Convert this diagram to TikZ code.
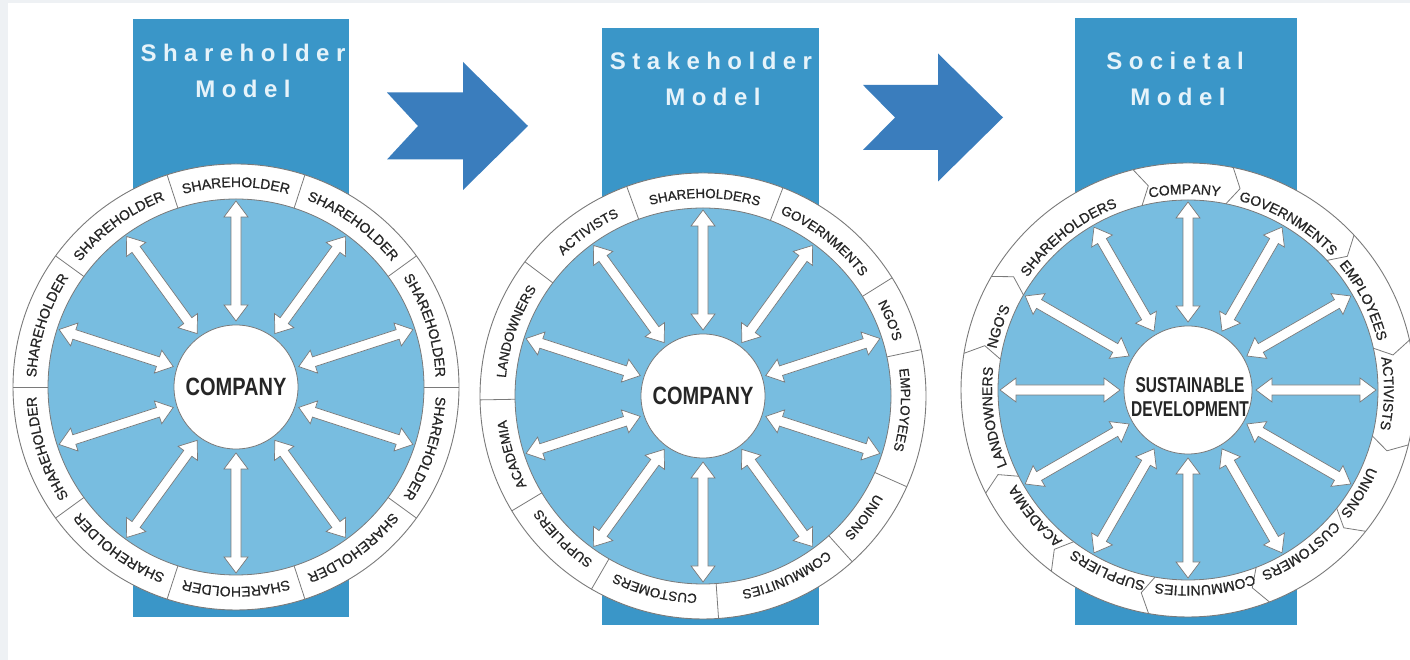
\documentclass[tikz,border=0pt]{standalone}
\usepackage{fontspec}
\setmainfont{Liberation Sans}
\newfontfamily\titlef[LetterSpace=27]{Liberation Sans}
\newfontfamily\condf[FakeStretch=0.8]{Liberation Sans}
\newfontfamily\condg[FakeStretch=0.72]{Liberation Sans}
\newfontfamily\labfont[FakeBold=0.8]{Liberation Sans}
\usetikzlibrary{calc,decorations.text}

\definecolor{rectblue}{HTML}{3A96C8}
\definecolor{arrowblue}{HTML}{3A7DBD}
\definecolor{disk}{HTML}{78BDE0}
\definecolor{rimline}{HTML}{7A7A7A}
\definecolor{labc}{HTML}{262626}
\definecolor{titlec}{HTML}{E6F3FA}
\definecolor{bgc}{HTML}{EEF1F4}

\newcommand\labfA{\labfont\fontsize{14}{14}\selectfont\color{labc}}
\newcommand\labfB{\labfont\fontsize{13.3}{13.3}\selectfont\color{labc}}

\newcommand\ringlab[5]{%
  \pgfmathsetmacro\rlsa{#2+50}%
  \pgfmathsetmacro\rlea{#2-50}%
  \path[decorate, decoration={text along path, text align=center,
      text={|#5|#4}}]
    ($(#1)+(\rlsa:#3)$) arc[start angle=\rlsa, end angle=\rlea, radius=#3];
}

\tikzset{
  panelrect/.style={fill=rectblue, draw=none},
  bigarrow/.style={fill=arrowblue, draw=none},
  ring/.style={fill=white, draw=rimline, line width=0.9pt},
  innerdisk/.style={fill=disk, draw=rimline, line width=0.8pt},
  hubcircle/.style={circle, fill=white, draw=rimline, line width=0.8pt, inner sep=0pt},
  divider/.style={draw=rimline, line width=0.8pt},
  titletext/.style={text=titlec, font=\titlef\bfseries\fontsize{24}{24}\selectfont, anchor=base, inner sep=0pt},
  hubtext/.style={text=labc, font=\condf\bfseries\fontsize{25}{25}\selectfont},
  hubtextB/.style={text=labc, font=\condg\bfseries\fontsize{21.5}{24}\selectfont, align=center, inner sep=0pt},
  fatarrow/.style={fill=white, draw=rimline, line width=0.7pt, line join=miter,
    to path={let \p1=(\tikztostart), \p2=(\tikztotarget),
      \n1={atan2(\y2-\y1,\x2-\x1)} in
      -- ($(\p1)+(\n1:16pt)+(\n1+90:12pt)$)
      -- ($(\p1)+(\n1:16pt)+(\n1+90:5pt)$)
      -- ($(\p2)+(\n1+180:16pt)+(\n1+90:5pt)$)
      -- ($(\p2)+(\n1+180:16pt)+(\n1+90:12pt)$)
      -- (\p2)
      -- ($(\p2)+(\n1+180:16pt)+(\n1-90:12pt)$)
      -- ($(\p2)+(\n1+180:16pt)+(\n1-90:5pt)$)
      -- ($(\p1)+(\n1:16pt)+(\n1-90:5pt)$)
      -- ($(\p1)+(\n1:16pt)+(\n1-90:12pt)$)
      -- cycle}}
}

\begin{document}
\begin{tikzpicture}[x=1pt,y=1pt]
\useasboundingbox (0,0) rectangle (1410,660);
\fill[bgc] (0,0) rectangle (1410,660);
\fill[white] (8,0) rectangle (1410,657);

% ---------- blue panels ----------
\path[panelrect] (133,43) rectangle (349,641);
\path[panelrect] (602,35) rectangle (819,632);
\path[panelrect] (1075,35) rectangle (1297,642);

\node[titletext] (t1a) at (243,598) {Shareholder};
\node[titletext] (t1b) at (243,562) {Model};
\node[titletext] (t2a) at (711,590) {Stakeholder};
\node[titletext] (t2b) at (713,554) {Model};
\node[titletext] (t3a) at (1175,590) {Societal};
\node[titletext] (t3b) at (1178,554) {Model};

% ---------- big arrows between panels ----------
\path[bigarrow] (387,567.5) -- (463,567.5) -- (463,598) -- (528,534) -- (463,470)
  -- (463,500.5) -- (387,500.5) -- (418,534) -- cycle;
\path[bigarrow] (863,575) -- (938,575) -- (938,606.5) -- (1003,542.5) -- (938,478.5)
  -- (938,510) -- (863,510) -- (895,542.5) -- cycle;

% ---------- panel 1 ----------
\coordinate (c1) at (236,273);
\path[ring] (c1) circle[radius=223];
\path[innerdisk] (c1) circle[radius=188];
\foreach \k in {0,...,9}{
  \pgfmathsetmacro\da{108-36*\k}
  \pgfmathsetmacro\ma{90-36*\k}
  \draw[divider] ($(c1)+(\da:188)$) -- ($(c1)+(\da:223)$);
  \ringlab{c1}{\ma}{200}{SHAREHOLDER}{\labfA}
  \coordinate (p1i\k) at ($(c1)+(\ma:66)$);
  \coordinate (p1o\k) at ($(c1)+(\ma:186)$);
  \path[fatarrow] (p1i\k) to (p1o\k);
}
\node[hubcircle, minimum size=124pt] (hub1) at (c1) {};
\node[hubtext] (hubt1) at (c1) {COMPANY};

% ---------- panel 2 ----------
\coordinate (c2) at (703,264);
\path[ring] (c2) circle[radius=223];
\path[innerdisk] (c2) circle[radius=188];
\foreach \da in {110,69,32,12,-24,-48,-86,-120,-149,-179,143}{
  \draw[divider] ($(c2)+(\da:188)$) -- ($(c2)+(\da:223)$);
}
\ringlab{c2}{89.5}{198}{SHAREHOLDERS}{\labfB}
\ringlab{c2}{52}{198}{GOVERNMENTS}{\labfB}
\ringlab{c2}{22}{198}{NGO'S}{\labfB}
\ringlab{c2}{-4}{198}{EMPLOYEES}{\labfB}
\ringlab{c2}{-37}{198}{UNIONS}{\labfB}
\ringlab{c2}{-65}{198}{COMMUNITIES}{\labfB}
\ringlab{c2}{-104}{198}{CUSTOMERS}{\labfB}
\ringlab{c2}{-134.5}{198}{SUPPLIERS}{\labfB}
\ringlab{c2}{-163}{198}{ACADEMIA}{\labfB}
\ringlab{c2}{161}{198}{LANDOWNERS}{\labfB}
\ringlab{c2}{125}{198}{ACTIVISTS}{\labfB}
\foreach \k in {0,...,9}{
  \pgfmathsetmacro\ma{90-36*\k}
  \coordinate (p2i\k) at ($(c2)+(\ma:66)$);
  \coordinate (p2o\k) at ($(c2)+(\ma:186)$);
  \path[fatarrow] (p2i\k) to (p2o\k);
}
\node[hubcircle, minimum size=124pt] (hub2) at (c2) {};
\node[hubtext] (hubt2) at (c2) {COMPANY};

% ---------- panel 3 ----------
\coordinate (c3) at (1188,270);
\path[ring] (c3) circle[radius=227];
\path[innerdisk] (c3) circle[radius=190];
\foreach \da in {104,78.5,43,12.7,-14,-38.5,-69,-100,-127,-153,-189.3,150}{
  \pgfmathsetmacro\db{\da-3}
  \draw[divider, line join=round] ($(c3)+(\da:227)$) -- ($(c3)+(\db:208)$) -- ($(c3)+(\da:190)$);
}
\ringlab{c3}{91}{196}{COMPANY}{\labfA}
\ringlab{c3}{59}{196}{GOVERNMENTS}{\labfA}
\ringlab{c3}{27}{196}{EMPLOYEES}{\labfA}
\ringlab{c3}{-1}{196}{ACTIVISTS}{\labfA}
\ringlab{c3}{-31}{196}{UNIONS}{\labfA}
\ringlab{c3}{-55}{196}{CUSTOMERS}{\labfA}
\ringlab{c3}{-85}{196}{COMMUNITIES}{\labfA}
\ringlab{c3}{-114}{196}{SUPPLIERS}{\labfA}
\ringlab{c3}{-140.5}{196}{ACADEMIA}{\labfA}
\ringlab{c3}{-172}{196}{LANDOWNERS}{\labfA}
\ringlab{c3}{161.5}{196}{NGO'S}{\labfA}
\ringlab{c3}{128}{196}{SHAREHOLDERS}{\labfA}
\foreach \k in {0,...,11}{
  \pgfmathsetmacro\ma{90-30*\k}
  \coordinate (p3i\k) at ($(c3)+(\ma:68)$);
  \coordinate (p3o\k) at ($(c3)+(\ma:188)$);
  \path[fatarrow] (p3i\k) to (p3o\k);
}
\node[hubcircle, minimum size=128pt] (hub3) at (c3) {};
\node[hubtextB] (hubt3) at ($(c3)+(2,-7)$) {SUSTAINABLE\\DEVELOPMENT};
\end{tikzpicture}
\end{document}
